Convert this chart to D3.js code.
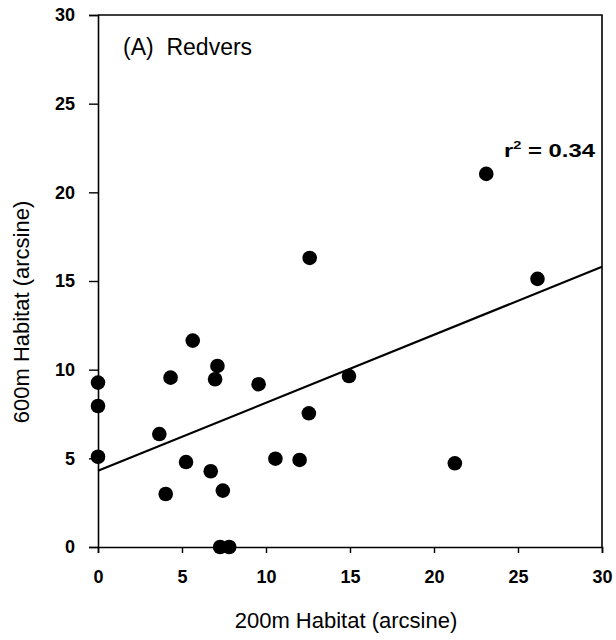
<!DOCTYPE html>
<html>
<head>
<meta charset="utf-8">
<script src="https://cdn.jsdelivr.net/npm/d3@7"></script>
<style>
  body { margin: 0; background: #fff; }
  svg { display: block; font-family: "Liberation Sans", Arial, sans-serif; }
</style>
</head>
<body>
<div id="chart"></div>
<script>
// values
var habitat200 = [0, 0, 0, 3.65, 4.03, 4.32, 5.24, 5.64, 6.71, 6.97, 7.11, 7.27, 7.43, 7.81, 9.56, 10.56, 12.0, 12.55, 12.6, 14.94, 21.24, 23.11, 26.16];
var habitat600 = [9.27, 7.95, 5.09, 6.37, 2.99, 9.55, 4.79, 11.64, 4.27, 9.46, 10.21, 0, 3.18, 0, 9.18, 4.98, 4.91, 7.54, 16.3, 9.64, 4.72, 21.04, 15.12];
var fitX = [0, 30];
var fitY = [4.3, 15.8];
var xTicks = [0, 5, 10, 15, 20, 25, 30];
var yTicks = [0, 5, 10, 15, 20, 25, 30];

var w = 616, h = 640;
var margin = {top: 15, right: 14, bottom: 93, left: 98};

var svg = d3.select("#chart")
  .append("svg")
  .attr("width", w)
  .attr("height", h);

var xScale = d3.scaleLinear()
  .domain([0, 30])
  .range([margin.left, w - margin.right]);
var yScale = d3.scaleLinear()
  .domain([0, 30])
  .range([h - margin.bottom, margin.top]);

var points = habitat200.map((x, i) => ({x: x, y: habitat600[i]}));

// frame (top and right sides)
svg.append("path")
  .attr("d", "M" + margin.left + "," + margin.top + "H" + (w - margin.right) + "V" + (h - margin.bottom))
  .attr("fill", "none")
  .attr("stroke", "#000")
  .attr("stroke-width", 1.6);

var xAxis = d3.axisBottom(xScale)
  .tickValues(xTicks)
  .tickSize(6)
  .tickPadding(17);
var yAxis = d3.axisLeft(yScale)
  .tickValues(yTicks)
  .tickSize(9)
  .tickPadding(14);

var gx = svg.append("g")
  .attr("class", "axis")
  .attr("transform", "translate(0," + (h - margin.bottom) + ")")
  .call(xAxis);
var gy = svg.append("g")
  .attr("class", "axis")
  .attr("transform", "translate(" + margin.left + ",0)")
  .call(yAxis);

[gx, gy].forEach(g => {
  g.select(".domain").attr("stroke-width", 1.6);
  g.selectAll(".tick line").attr("stroke-width", 1.4);
  g.selectAll(".tick text")
    .attr("font-family", "'Liberation Sans', Arial, sans-serif")
    .attr("font-size", "18px")
    .attr("font-weight", "bold")
    .attr("fill", "#000");
});

// regression line
var line = d3.line()
  .x(d => xScale(d[0]))
  .y(d => yScale(d[1]));
svg.append("path")
  .datum(fitX.map((x, i) => [x, fitY[i]]))
  .attr("d", line)
  .attr("fill", "none")
  .attr("stroke", "#000")
  .attr("stroke-width", 2.2);

// points
svg.append("g")
  .selectAll("circle")
  .data(points)
  .enter()
  .append("circle")
  .attr("cx", d => xScale(d.x))
  .attr("cy", d => yScale(d.y))
  .attr("r", 7.3)
  .attr("fill", "#000");

// panel label
svg.append("text")
  .attr("x", 123)
  .attr("y", 55)
  .attr("font-size", "23px")
  .attr("xml:space", "preserve")
  .text("(A)  Redvers");

// r squared
var r2 = svg.append("text")
  .attr("x", 504)
  .attr("y", 157)
  .attr("font-size", "18px")
  .attr("font-weight", "bold");
r2.append("tspan").text("r");
r2.append("tspan").attr("font-size", "11px").attr("dy", -8).text("2");
r2.append("tspan").attr("dy", 8).text(" = 0.34");
r2.attr("textLength", 91).attr("lengthAdjust", "spacingAndGlyphs");

// axis titles
svg.append("text")
  .attr("x", 346)
  .attr("y", 628)
  .attr("text-anchor", "middle")
  .attr("font-size", "22px")
  .text("200m Habitat (arcsine)");
svg.append("text")
  .attr("transform", "translate(29,312) rotate(-90)")
  .attr("text-anchor", "middle")
  .attr("font-size", "22px")
  .text("600m Habitat (arcsine)");
</script>
</body>
</html>
